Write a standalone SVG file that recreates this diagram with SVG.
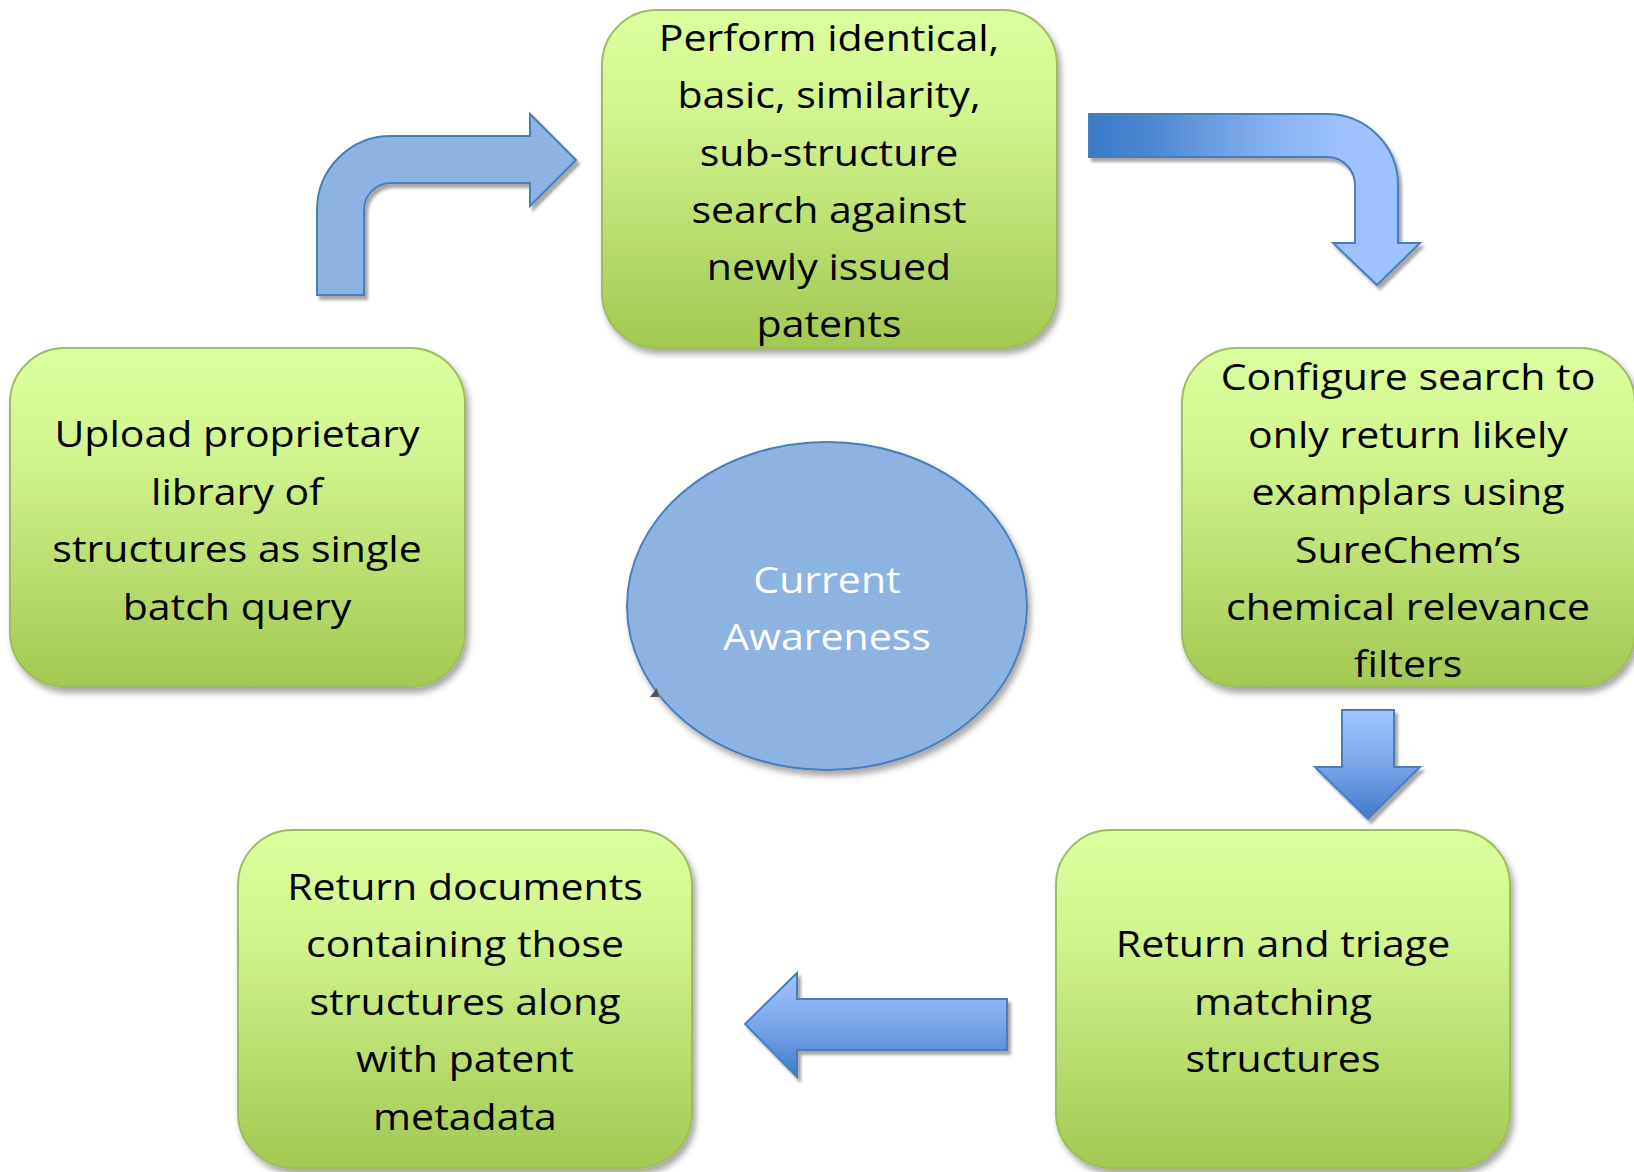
<svg xmlns="http://www.w3.org/2000/svg" width="1634" height="1172" viewBox="0 0 1634 1172">
<style>
.box{fill:url(#gGreen);stroke:#9CBC5E;stroke-width:2;filter:url(#shadow)}
.t{font-family:"Open Sans","Liberation Sans",sans-serif;font-size:36px;text-anchor:middle;fill:#000}
.tw{fill:#fff}
.arr{stroke:#4A7EBB;stroke-width:2;stroke-linejoin:miter;filter:url(#ashadow)}
</style>
<defs>
<linearGradient id="gGreen" x1="0" y1="0" x2="0" y2="1">
<stop offset="0" stop-color="#DCFF9E"/>
<stop offset="0.3" stop-color="#D3F58F"/>
<stop offset="1" stop-color="#A3C852"/>
</linearGradient>
<linearGradient id="gA2" gradientUnits="userSpaceOnUse" x1="1089" y1="0" x2="1340" y2="0">
<stop offset="0" stop-color="#3B79C7"/>
<stop offset="0.25" stop-color="#4C88D3"/>
<stop offset="0.7" stop-color="#84AFEE"/>
<stop offset="1" stop-color="#9DC2FF"/>
</linearGradient>
<linearGradient id="gV" x1="0" y1="0" x2="0" y2="1">
<stop offset="0" stop-color="#A2C6FF"/>
<stop offset="0.5" stop-color="#79A6EB"/>
<stop offset="1" stop-color="#3E7BCB"/>
</linearGradient>
<filter id="shadow" x="-10%" y="-10%" width="125%" height="125%">
<feDropShadow dx="3" dy="5" stdDeviation="3" flood-color="#000" flood-opacity="0.35"/>
</filter>
<filter id="ashadow" x="-10%" y="-10%" width="125%" height="130%">
<feDropShadow dx="3" dy="4" stdDeviation="1.5" flood-color="#000" flood-opacity="0.35"/>
</filter>
</defs>
<rect width="1634" height="1172" fill="#fff"/>

<g id="connectors">
<path id="arrow-upload-to-search" class="arr" fill="#8DB3E2" d="M317,295 L317,210 A74,74 0 0 1 391,136 L530,136 L530,114 L576,160 L530,206 L530,183 L391,183 A27,27 0 0 0 364,210 L364,295 Z"/>
<path id="arrow-search-to-configure" class="arr" fill="url(#gA2)" d="M1089,114 L1327,114 A71,71 0 0 1 1398,185 L1398,243 L1420,243 L1377,285 L1333,243 L1355,243 L1355,185 A28,28 0 0 0 1327,157 L1089,157 Z"/>
<path id="arrow-configure-to-triage" class="arr" fill="url(#gV)" d="M1342,710 L1394,710 L1394,767 L1420,767 L1368,819 L1315,767 L1342,767 Z"/>
<path id="arrow-triage-to-documents" class="arr" fill="url(#gV)" d="M1007,999 L1007,1050 L797,1050 L797,1077 L745,1024 L797,973 L797,999 Z"/>
</g>

<g id="node-center">
<ellipse cx="827" cy="606" rx="200" ry="164" fill="#8DB3E2" stroke="#4A7EBB" stroke-width="2" filter="url(#shadow)"/>
<polygon points="650,697 657,688 659,697" fill="#555"/>
<text class="t tw" transform="translate(827 0) scale(1.14 1)"><tspan x="0" y="593">Current</tspan><tspan x="0" y="650">Awareness</tspan></text>
</g>

<g id="node-upload">
<rect class="box" x="10" y="348" width="455" height="339" rx="55" ry="55"/>
<text class="t" transform="translate(237 0) scale(1.14 1)"><tspan x="0" y="447">Upload proprietary</tspan><tspan x="0" y="505">library of</tspan><tspan x="0" y="562">structures as single</tspan><tspan x="0" y="620">batch query</tspan></text>
</g>

<g id="node-search">
<rect class="box" x="602" y="10" width="455" height="338" rx="55" ry="55"/>
<text class="t" transform="translate(829 0) scale(1.14 1)"><tspan x="0" y="51">Perform identical,</tspan><tspan x="0" y="108">basic, similarity,</tspan><tspan x="0" y="166">sub-structure</tspan><tspan x="0" y="223">search against</tspan><tspan x="0" y="280">newly issued</tspan><tspan x="0" y="337">patents</tspan></text>
</g>

<g id="node-configure">
<rect class="box" x="1182" y="348" width="453" height="339" rx="55" ry="55"/>
<text class="t" transform="translate(1408 0) scale(1.14 1)"><tspan x="0" y="390">Configure search to</tspan><tspan x="0" y="448">only return likely</tspan><tspan x="0" y="505">examplars using</tspan><tspan x="0" y="563">SureChem’s</tspan><tspan x="0" y="620">chemical relevance</tspan><tspan x="0" y="677">filters</tspan></text>
</g>

<g id="node-triage">
<rect class="box" x="1056" y="830" width="454" height="338" rx="55" ry="55"/>
<text class="t" transform="translate(1283 0) scale(1.14 1)"><tspan x="0" y="957">Return and triage</tspan><tspan x="0" y="1015">matching</tspan><tspan x="0" y="1072">structures</tspan></text>
</g>

<g id="node-documents">
<rect class="box" x="238" y="830" width="454" height="338" rx="55" ry="55"/>
<text class="t" transform="translate(465 0) scale(1.14 1)"><tspan x="0" y="900">Return documents</tspan><tspan x="0" y="957">containing those</tspan><tspan x="0" y="1015">structures along</tspan><tspan x="0" y="1072">with patent</tspan><tspan x="0" y="1130">metadata</tspan></text>
</g>
</svg>
